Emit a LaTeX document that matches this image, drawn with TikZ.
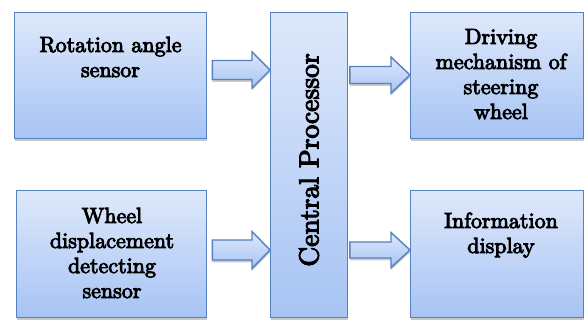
\documentclass[tikz,border=0pt]{standalone}
\usepackage{fontspec}
\newfontfamily\cent{lmroman10-regular}[Extension=.otf, FakeBold=4]
\usetikzlibrary{calc,shadows}
\definecolor{boxtop}{RGB}{222,232,251}
\definecolor{boxbot}{RGB}{167,196,244}
\definecolor{boxline}{RGB}{86,128,190}
\tikzset{
  shad/.style={drop shadow={shadow xshift=0pt, shadow yshift=-2.5pt, opacity=.3, fill=black!70}},
  blockbox/.style={draw=boxline, line width=1.4pt, top color=boxtop, bottom color=boxbot, shad, inner sep=0pt, anchor=south west},
  arrowsty/.style={draw=boxline, line width=1.4pt, top color=boxtop, bottom color=boxbot, line join=miter, shad},
  boxtext/.style={font=\cent\fontsize{22}{25}\selectfont, align=center, anchor=base, inner sep=0pt},
  cptext/.style={font=\cent\fontsize{27.5}{30}\selectfont, rotate=90, inner sep=0pt}
}
\newcommand\blkarrow[7]{%
  \draw[arrowsty] let \p1=(#1.east), \p2=(#2.west) in
   (\x1+#7,#3+#4) -- (\x2-#6,#3+#4) -- (\x2-#6,#3+#5) -- (\x2,#3) -- (\x2-#6,#3-#5) -- (\x2-#6,#3-#4) -- (\x1+#7,#3-#4) -- cycle;}
\begin{document}
\begin{tikzpicture}[x=1pt,y=1pt]
\useasboundingbox (0,0) rectangle (585,320);
\node[blockbox, minimum width=192pt, minimum height=126pt] (rs) at (14,181) {};
\node[blockbox, minimum width=190pt, minimum height=127pt] (ws) at (16,2) {};
\node[blockbox, minimum width=77pt, minimum height=305pt] (cp) at (270,2) {};
\node[blockbox, minimum width=173pt, minimum height=126pt] (dm) at (410,181) {};
\node[blockbox, minimum width=173pt, minimum height=127pt] (id) at (410,2) {};
\node[boxtext] (trs) at (110.5,243) {Rotation angle\\sensor};
\node[boxtext] (tws) at (112,22) {Wheel\\displacement\\detecting\\sensor};
\node[boxtext] (tdm) at (501,201) {Driving\\mechanism of\\steering\\wheel};
\node[boxtext] (tid) at (501,67) {Information\\display};
\node[cptext] (tcp) at (309,160) {Central Processor};
\blkarrow{rs}{cp}{250pt}{9.5pt}{18pt}{18pt}{5pt}
\blkarrow{cp}{dm}{245pt}{8.5pt}{18pt}{19pt}{1.5pt}
\blkarrow{ws}{cp}{70pt}{10pt}{18.5pt}{18pt}{5pt}
\blkarrow{cp}{id}{70pt}{8pt}{17.5pt}{19pt}{1.5pt}
\end{tikzpicture}
\end{document}
